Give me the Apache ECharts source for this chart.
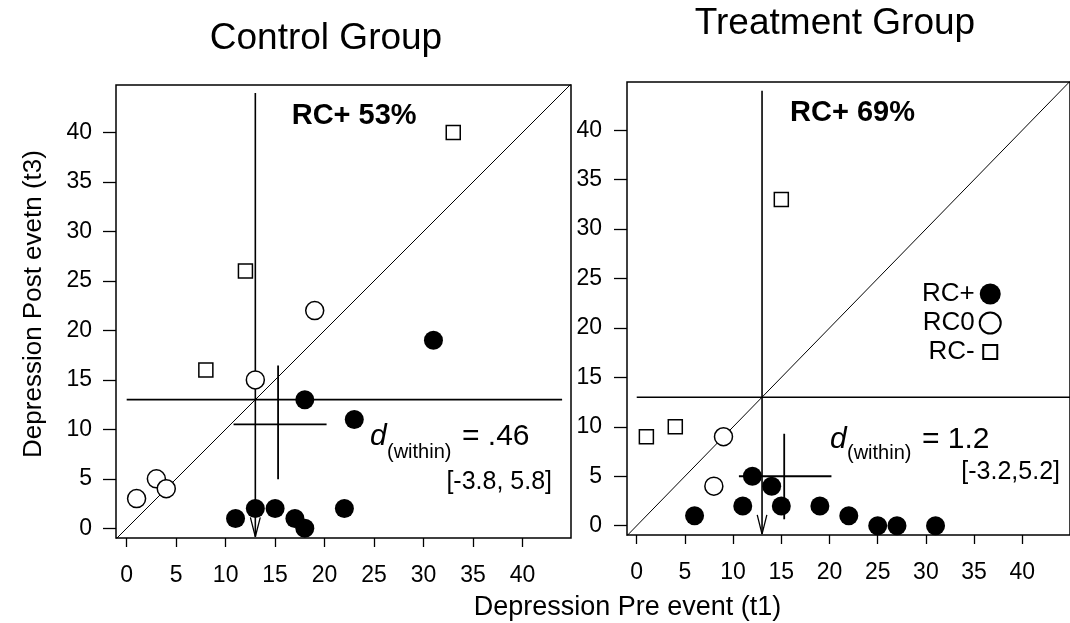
<!DOCTYPE html>
<html>
<head>
<meta charset="utf-8">
<title>Control vs Treatment Group</title>
<script src="https://cdn.jsdelivr.net/npm/echarts@6/dist/echarts.min.js"></script>
<style>
    html, body { margin: 0; padding: 0; background: #fff; }
    #main { width: 1070px; height: 623px; }
</style>
</head>
<body>
<div id="main"></div>
<script>
var tickValues = [0, 5, 10, 15, 20, 25, 30, 35, 40];
// control group, [pre t1, post t3]
var ctrlPos = [[31, 19], [18, 13], [23, 11], [22, 2], [11, 1], [13, 2], [15, 2], [17, 1], [18, 0]];
var ctrlZero = [[19, 22], [13, 15], [1, 3], [3, 5], [4, 4]];
var ctrlNeg = [[33, 40], [12, 26], [8, 16]];
// treatment group
var treatPos = [[6, 1], [11, 2], [12, 5], [14, 4], [15, 2], [19, 2], [22, 1], [25, 0], [27, 0], [31, 0]];
var treatZero = [[8, 4], [9, 9]];
var treatNeg = [[1, 9], [4, 10], [15, 33]];
// cut-off lines
var cutoff = 13;
var cutoffSpan = [0, 44];
var cutoffSpanR = [0, 50];
var arrowTop = 44;
var arrowTip = -0.85;
var diagEnds = [-5, 50];
// mean + interval cross
var ctrlMean = [15.3, 10.5];
var ctrlCiX = [10.8, 20.2];
var ctrlCiY = [4.95, 16.45];
var treatMean = [15.3, 5];
var treatCiX = [10.6, 20.2];
var treatCiY = [0.65, 9.3];
// texts
var groupNames = ['Control Group', 'Treatment Group'];
var rcPct = ['RC+ 53%', 'RC+ 69%'];
var dValues = ['= .46', '= 1.2'];
var dRanges = ['[-3.8, 5.8]', '[-3.2,5.2]'];
var legendNames = ['RC+', 'RC0', 'RC-'];

var FONT = '"Liberation Sans", Arial, sans-serif';

var chart = echarts.init(document.getElementById('main'));

function axisOpt(gridIndex, min, max, margin, tickLen) {
    return {
        type: 'value',
        gridIndex: gridIndex,
        min: min,
        max: max,
        splitLine: {show: false},
        axisLine: {show: false, onZero: false},
        axisTick: {
            show: true,
            length: tickLen,
            customValues: tickValues,
            lineStyle: {color: '#000', width: 1.3}
        },
        axisLabel: {
            customValues: tickValues,
            margin: margin,
            color: '#000',
            fontSize: 23,
            fontFamily: FONT
        }
    };
}

function lineSer(idx, data, width) {
    return {
        type: 'line',
        xAxisIndex: idx,
        yAxisIndex: idx,
        data: data,
        symbol: 'none',
        silent: true,
        z: 2,
        lineStyle: {color: '#000', width: width}
    };
}

function pointSer(idx, name, data) {
    var s = {
        type: 'scatter',
        name: name,
        xAxisIndex: idx,
        yAxisIndex: idx,
        data: data,
        z: 5
    };
    if (name === 'RC+') {
        s.symbol = 'circle';
        s.symbolSize = 19;
        s.itemStyle = {color: '#000', opacity: 1};
    } else if (name === 'RC0') {
        s.symbol = 'circle';
        s.symbolSize = 18;
        s.itemStyle = {color: '#fff', borderColor: '#000', borderWidth: 1.5, opacity: 1};
    } else {
        s.symbol = 'rect';
        s.symbolSize = 14;
        s.itemStyle = {color: '#fff', borderColor: '#000', borderWidth: 1.5, opacity: 1};
    }
    return s;
}

// cut-off lines, diagonal, arrow, cross for one panel
function panelLines(idx, span, mean, ciX, ciY) {
    return [
        lineSer(idx, [[diagEnds[0], diagEnds[0]], [diagEnds[1], diagEnds[1]]], 1),
        lineSer(idx, [[cutoff, arrowTop], [cutoff, arrowTip]], 1.6),
        lineSer(idx, [[cutoff - 0.5, 1.1], [cutoff, arrowTip], [cutoff + 0.5, 1.1]], 1.3),
        lineSer(idx, [[span[0], cutoff], [span[1], cutoff]], 1.6),
        lineSer(idx, [[ciX[0], mean[1]], [ciX[1], mean[1]]], 1.8),
        lineSer(idx, [[mean[0], ciY[0]], [mean[0], ciY[1]]], 1.8)
    ];
}

function txt(x, y, str, font, align, rot) {
    return {
        type: 'text',
        x: x,
        y: y,
        rotation: rot || 0,
        silent: true,
        style: {
            text: str,
            font: font,
            fill: '#000',
            align: align,
            textAlign: align,
            verticalAlign: 'middle',
            textVerticalAlign: 'middle'
        }
    };
}

var series = []
    .concat(panelLines(0, cutoffSpan, ctrlMean, ctrlCiX, ctrlCiY))
    .concat(panelLines(1, cutoffSpanR, treatMean, treatCiX, treatCiY));
series.push(pointSer(0, 'RC+', ctrlPos));
series.push(pointSer(0, 'RC0', ctrlZero));
series.push(pointSer(0, 'RC-', ctrlNeg));
series.push(pointSer(1, 'RC+', treatPos));
series.push(pointSer(1, 'RC0', treatZero));
series.push(pointSer(1, 'RC-', treatNeg));

var option = {
    animation: false,
    backgroundColor: '#fff',
    textStyle: {fontFamily: FONT},
    grid: [
        {left: 116, top: 85, width: 455, height: 453, show: true, borderColor: '#000', borderWidth: 1.5, containLabel: false},
        {left: 627, top: 82, width: 455, height: 453, show: true, borderColor: '#000', borderWidth: 1.5, containLabel: false}
    ],
    xAxis: [
        axisOpt(0, -1.08, 44.9, 26, 9),
        axisOpt(1, -1.01, 44.95, 26, 9)
    ],
    yAxis: [
        axisOpt(0, -0.98, 44.8, 24, 13),
        axisOpt(1, -0.94, 44.88, 25, 13)
    ],
    legend: {
        orient: 'vertical',
        left: 917,
        top: 276,
        align: 'right',
        itemWidth: 21,
        itemHeight: 21,
        itemGap: 3,
        selectedMode: false,
        textStyle: {fontSize: 26, color: '#000', fontFamily: FONT},
        data: [
            {name: legendNames[0], icon: 'circle'},
            {name: legendNames[1], icon: 'circle'},
            {name: legendNames[2], icon: 'path://M0,0M3.5,3.5h14v14h-14zM21,21'}
        ]
    },
    graphic: [
        txt(326, 38.5, groupNames[0], '37px ' + FONT, 'center'),
        txt(835, 24, groupNames[1], '37px ' + FONT, 'center'),
        txt(291.7, 116, rcPct[0], 'bold 29px ' + FONT, 'left'),
        txt(790, 112.5, rcPct[1], 'bold 29px ' + FONT, 'left'),
        // control effect size
        txt(370, 436.7, 'd', 'italic 30px ' + FONT, 'left'),
        txt(387, 452, '(within)', '20px ' + FONT, 'left'),
        txt(462, 436.7, dValues[0], '30px ' + FONT, 'left'),
        txt(552, 482.3, dRanges[0], '25px ' + FONT, 'right'),
        // treatment effect size
        txt(830, 440, 'd', 'italic 30px ' + FONT, 'left'),
        txt(847, 453.5, '(within)', '20px ' + FONT, 'left'),
        txt(922, 440, dValues[1], '30px ' + FONT, 'left'),
        txt(1060, 471.7, dRanges[1], '25px ' + FONT, 'right'),
        // axis titles
        txt(627.5, 608, 'Depression Pre event (t1)', '27px ' + FONT, 'center'),
        txt(34, 304, 'Depression Post evetn (t3)', '26px ' + FONT, 'center', Math.PI / 2)
    ],
    series: series
};

chart.setOption(option);
window.onresize = function () {
    chart.resize();
};
</script>
</body>
</html>
